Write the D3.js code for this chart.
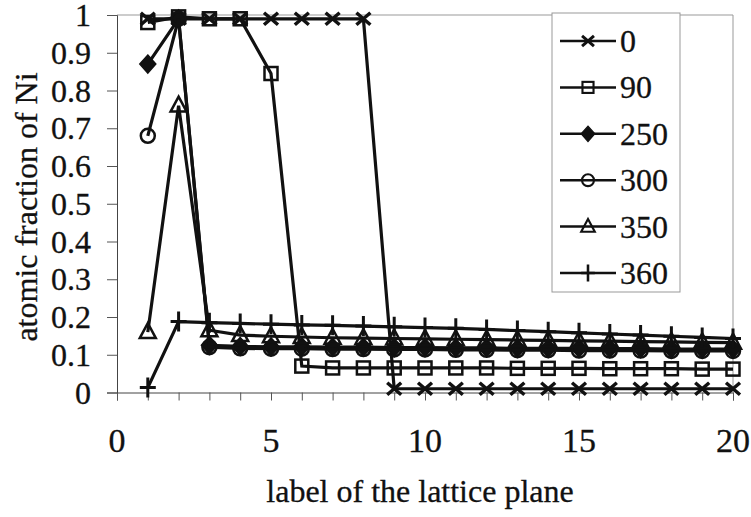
<!DOCTYPE html>
<html>
<head>
<meta charset="utf-8">
<script src="https://cdn.jsdelivr.net/npm/d3@7"></script>
<style>
  body { margin: 0; background: #fff; }
  text { font-family: "Liberation Serif", "DejaVu Serif", serif; fill: #111; stroke: #111; stroke-width: 0.3px; }
</style>
</head>
<body>
<div id="chart"></div>
<script>
// lattice plane labels
var planes = [1, 2, 3, 4, 5, 6, 7, 8, 9, 10, 11, 12, 13, 14, 15, 16, 17, 18, 19, 20];

// atomic fraction of Ni per series
var ni0 = [0.99, 0.99, 0.99, 0.99, 0.99, 0.99, 0.99, 0.99, 0.01, 0.01, 0.01, 0.01, 0.01, 0.01, 0.01, 0.01, 0.01, 0.01, 0.01, 0.01];
var ni90 = [0.98, 0.995, 0.99, 0.99, 0.845, 0.07, 0.065, 0.065, 0.065, 0.065, 0.065, 0.065, 0.064, 0.064, 0.064, 0.063, 0.063, 0.063, 0.062, 0.062];
var ni250 = [0.87, 0.99, 0.125, 0.122, 0.121, 0.121, 0.12, 0.12, 0.119, 0.119, 0.118, 0.118, 0.117, 0.117, 0.117, 0.116, 0.116, 0.115, 0.115, 0.115];
var ni300 = [0.68, 0.99, 0.12, 0.117, 0.116, 0.116, 0.115, 0.115, 0.114, 0.114, 0.113, 0.113, 0.112, 0.112, 0.111, 0.111, 0.111, 0.11, 0.11, 0.11];
var ni350 = [0.16, 0.76, 0.165, 0.152, 0.149, 0.147, 0.145, 0.144, 0.143, 0.142, 0.141, 0.14, 0.139, 0.138, 0.137, 0.136, 0.135, 0.134, 0.133, 0.132];
var ni360 = [0.013, 0.188, 0.185, 0.183, 0.181, 0.179, 0.178, 0.176, 0.174, 0.172, 0.17, 0.167, 0.164, 0.161, 0.158, 0.155, 0.152, 0.149, 0.146, 0.143];

var seriesNames = ["0", "90", "250", "300", "350", "360"];
var seriesValues = [ni0, ni90, ni250, ni300, ni350, ni360];
var markers = ["x", "square", "diamond", "circle", "triangle", "plus"];

var xTicks = [0, 5, 10, 15, 20];
var yTicks = [0, 0.1, 0.2, 0.3, 0.4, 0.5, 0.6, 0.7, 0.8, 0.9, 1];

var width = 751, height = 517;
var plotLeft = 117, plotRight = 733, plotTop = 15, plotBottom = 392.5;

var svg = d3.select("#chart").append("svg")
    .attr("width", width)
    .attr("height", height);

var x = d3.scaleLinear().domain([0, 20]).range([plotLeft, plotRight]);
var y = d3.scaleLinear().domain([0, 1]).range([plotBottom, plotTop]);

// plot frame (top + right)
svg.append("path")
    .attr("d", "M" + plotLeft + "," + plotTop + "H" + plotRight + "V" + plotBottom)
    .attr("fill", "none")
    .attr("stroke", "#999")
    .attr("stroke-width", 1);

// axes
svg.append("g")
    .attr("transform", "translate(0," + plotBottom + ")")
    .call(d3.axisBottom(x).tickValues(d3.range(0, 21)).tickSize(8).tickFormat(""));
svg.append("g")
    .attr("transform", "translate(" + plotLeft + ",0)")
    .call(d3.axisLeft(y).tickValues(yTicks).tickSize(10).tickFormat(""));
svg.selectAll(".domain").attr("stroke", "#444");
svg.selectAll(".tick line").attr("stroke", "#555");

svg.selectAll(".xlab")
    .data(xTicks)
    .enter().append("text")
    .attr("class", "xlab")
    .attr("x", function(d) { return x(d); })
    .attr("y", 452)
    .attr("text-anchor", "middle")
    .attr("font-size", "34px")
    .text(function(d) { return d; });

svg.selectAll(".ylab")
    .data(yTicks)
    .enter().append("text")
    .attr("class", "ylab")
    .attr("x", 91)
    .attr("y", function(d) { return y(d) + 11; })
    .attr("text-anchor", "end")
    .attr("font-size", "32px")
    .text(function(d) { return d; });

svg.append("text")
    .attr("x", 420)
    .attr("y", 502)
    .attr("text-anchor", "middle")
    .attr("font-size", "32px")
    .text("label of the lattice plane");

svg.append("text")
    .attr("transform", "translate(37,207) rotate(-90)")
    .attr("text-anchor", "middle")
    .attr("font-size", "32px")
    .text("atomic fraction of Ni");

// marker drawing
function drawMarker(g, type) {
  if (type == "x") {
    g.append("path").attr("d", "M-7,-6L7,6M-7,6L7,-6")
      .attr("stroke", "#111").attr("stroke-width", 3.5).attr("fill", "none");
  } else if (type == "square") {
    g.append("rect").attr("x", -6.5).attr("y", -6.5).attr("width", 13).attr("height", 13)
      .attr("stroke", "#111").attr("stroke-width", 2.5).attr("fill", "none");
  } else if (type == "diamond") {
    g.append("path").attr("d", "M0,-9L8,0L0,9L-8,0Z")
      .attr("stroke", "#111").attr("stroke-width", 1.5).attr("fill", "#111");
  } else if (type == "circle") {
    g.append("circle").attr("r", 7)
      .attr("stroke", "#111").attr("stroke-width", 2.5).attr("fill", "none");
  } else if (type == "triangle") {
    g.append("path").attr("d", "M0,-9L8,6L-8,6Z")
      .attr("stroke", "#111").attr("stroke-width", 2.5).attr("fill", "none");
  } else if (type == "plus") {
    g.append("path").attr("d", "M0,-10L0,10M-8,0L8,0")
      .attr("stroke", "#111").attr("stroke-width", 3).attr("fill", "none");
  }
}

var line = d3.line()
    .x(function(d) { return x(d[0]); })
    .y(function(d) { return y(d[1]); });

// series
seriesValues.forEach(function(vals, s) {
  var pts = planes.map(function(p, i) { return [p, vals[i]]; });
  svg.append("path")
      .datum(pts)
      .attr("d", line)
      .attr("fill", "none")
      .attr("stroke", "#111")
      .attr("stroke-width", 3.2);
  pts.forEach(function(d) {
    var g = svg.append("g").attr("transform", "translate(" + x(d[0]) + "," + y(d[1]) + ")");
    drawMarker(g, markers[s]);
  });
});

// legend
var legend = svg.append("g");
legend.append("rect")
    .attr("x", 552).attr("y", 13)
    .attr("width", 128).attr("height", 279)
    .attr("fill", "#fff")
    .attr("stroke", "#999");

seriesNames.forEach(function(name, i) {
  var ly = 41 + i * 46.4;
  legend.append("line")
      .attr("x1", 560).attr("x2", 616)
      .attr("y1", ly).attr("y2", ly)
      .attr("stroke", "#111").attr("stroke-width", 2.5);
  var g = legend.append("g").attr("transform", "translate(588," + ly + ") scale(0.85)");
  drawMarker(g, markers[i]);
  legend.append("text")
      .attr("x", 620)
      .attr("y", ly + 11)
      .attr("font-size", "32px")
      .text(name);
});
</script>
</body>
</html>
